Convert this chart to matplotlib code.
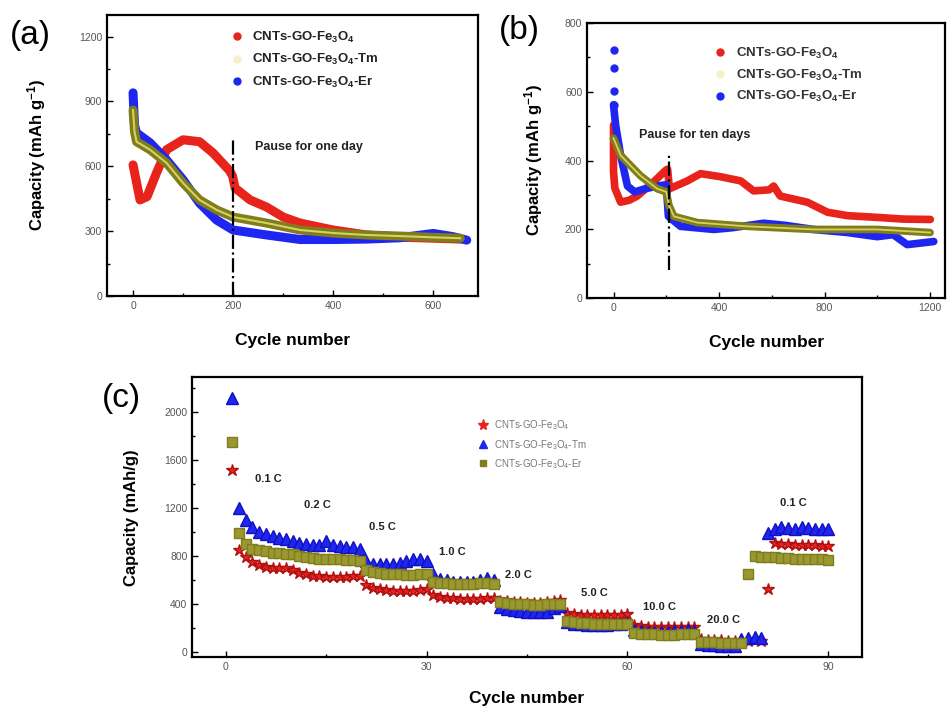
import matplotlib
matplotlib.use("Agg")
import matplotlib.pyplot as plt
from matplotlib.lines import Line2D
from matplotlib.ticker import MultipleLocator

plt.rcParams['font.family'] = ['Liberation Sans', 'DejaVu Sans']
plt.rcParams['mathtext.default'] = 'regular'

# ---- data: panel (a), pause for one day ----
a_red_x = [0, 14, 28, 47, 67, 100, 133, 160, 193, 199, 204, 234, 267, 300, 334, 400, 467, 533, 600, 654]
a_red_y = [607, 445, 460, 570, 677, 723, 714, 662, 580, 555, 500, 445, 412, 366, 338, 306, 283, 273, 268, 264]
a_er_x = [0, 3, 7, 34, 67, 100, 133, 167, 200, 267, 334, 400, 467, 533, 600, 640, 667]
a_er_y = [940, 790, 755, 709, 630, 538, 430, 352, 306, 283, 262, 262, 264, 270, 290, 275, 259]
a_tm_x = [0, 3, 7, 34, 67, 100, 133, 167, 200, 267, 334, 400, 467, 533, 600, 654]
a_tm_y = [860, 760, 714, 677, 616, 523, 445, 399, 366, 338, 306, 292, 283, 278, 272, 268]

# ---- data: panel (b), pause for ten days ----
b_red_x = [0, 0, 5, 27, 60, 90, 152, 197, 205, 212, 280, 330, 406, 482, 531, 590, 607, 632, 735, 811, 887, 1000, 1100, 1201]
b_red_y = [503, 367, 320, 279, 285, 297, 338, 371, 375, 318, 341, 362, 353, 341, 312, 315, 326, 297, 279, 250, 240, 235, 230, 229]
b_er_x = [0, 0, 0, 0, 8, 27, 53, 80, 120, 160, 200, 208, 254, 380, 450, 569, 650, 758, 887, 1000, 1060, 1113, 1160, 1214]
b_er_y = [720, 670, 603, 562, 503, 415, 326, 309, 318, 325, 330, 238, 209, 200, 205, 218, 212, 200, 191, 179, 185, 156, 160, 165]
b_tm_x = [0, 27, 102, 166, 200, 210, 229, 317, 506, 758, 1000, 1200]
b_tm_y = [465, 415, 356, 318, 309, 270, 238, 220, 209, 200, 200, 191]

# ---- data: panel (c), rate performance ----
c_cycles = list(range(1, 91))
c_red = [1520, 850, 790, 750, 730, 715, 705, 700, 700, 690,
         665, 650, 640, 635, 630, 625, 625, 630, 635, 640,
         560, 540, 530, 520, 515, 510, 510, 515, 520, 525,
         480, 465, 455, 450, 448, 445, 445, 448, 450, 455,
         430, 425, 420, 418, 415, 415, 415, 418, 425, 440,
         330, 320, 315, 312, 310, 310, 310, 312, 315, 318,
         225, 218, 215, 212, 210, 210, 210, 212, 212, 215,
         110, 105, 100, 100, 98, 98, 97, 98, 100, 95,
         530, 910, 905, 900, 898, 895, 893, 890, 888, 885]
c_tm = [2120, 1200, 1100, 1040, 1000, 985, 970, 950, 940, 930,
        910, 900, 895, 890, 925, 890, 885, 880, 875, 860,
        760, 740, 735, 735, 740, 745, 760, 775, 780, 760,
        650, 610, 600, 590, 585, 585, 590, 605, 620, 600,
        380, 360, 350, 345, 340, 335, 335, 340, 370, 390,
        250, 240, 235, 232, 230, 230, 232, 235, 240, 245,
        190, 175, 170, 168, 170, 172, 175, 180, 183, 180,
        70, 62, 58, 55, 55, 56, 110, 120, 125, 120,
        990, 1030, 1040, 1035, 1030, 1040, 1035, 1030, 1025, 1030]
c_er = [1750, 990, 900, 860, 850, 840, 830, 825, 820, 815,
        800, 790, 785, 780, 780, 775, 775, 770, 770, 765,
        690, 670, 660, 655, 650, 650, 648, 648, 650, 655,
        590, 580, 575, 570, 570, 570, 572, 575, 575, 570,
        420, 410, 405, 400, 400, 398, 398, 400, 400, 400,
        260, 250, 245, 242, 240, 240, 240, 238, 238, 240,
        160, 155, 150, 150, 148, 148, 148, 150, 150, 150,
        90, 85, 85, 82, 80, 80, 80, 650, 800, 795,
        790, 790, 785, 785, 780, 780, 778, 775, 775, 770]

rate_labels = ['0.1 C', '0.2 C', '0.5 C', '1.0 C', '2.0 C', '5.0 C', '10.0 C', '20.0 C', '0.1 C']
rate_x = [6.3, 13.7, 23.4, 33.9, 43.7, 55, 64.8, 74.3, 84.8]
rate_y = [1441, 1225, 1041, 833, 641, 491, 375, 266, 1241]

labels = ['CNTs-GO-Fe$_3$O$_4$', 'CNTs-GO-Fe$_3$O$_4$-Tm', 'CNTs-GO-Fe$_3$O$_4$-Er']

RED = '#e8231c'
BLUE = '#1f26f0'
OLIVE = '#7f7d1c'
YEL = '#d8d060'
TICKC = '#555555'

fig = plt.figure(figsize=(9.47, 7.12), dpi=100)
ax_a = fig.add_axes([0.113, 0.584, 0.392, 0.395])
ax_b = fig.add_axes([0.620, 0.581, 0.378, 0.387])
ax_c = fig.add_axes([0.203, 0.077, 0.707, 0.393])


def style(ax):
    for s in ax.spines.values():
        s.set_linewidth(1.6)
    ax.tick_params(which='both', direction='in', colors='black', labelcolor=TICKC,
                   labelsize=7.5, width=1.0)
    ax.tick_params(which='major', length=4)
    ax.tick_params(which='minor', length=2.5)


def band(ax, x, y, color, lw=6.5):
    ax.plot(x, y, color=color, lw=lw, solid_capstyle='round', solid_joinstyle='round', zorder=3)


# ---------- (a) ----------
band(ax_a, a_red_x, a_red_y, RED)
band(ax_a, a_er_x, a_er_y, BLUE)
band(ax_a, a_tm_x, a_tm_y, OLIVE)
ax_a.plot(a_tm_x, a_tm_y, color=YEL, lw=1.5, zorder=4)
ax_a.plot([200, 200], [0, 720], color='black', ls='-.', lw=1.6, zorder=5)
ax_a.text(244, 690, 'Pause for one day', fontsize=9, fontweight='bold', color='#222222', va='center')
ax_a.set_xlim(-52, 690)
ax_a.set_ylim(0, 1300)
ax_a.xaxis.set_major_locator(MultipleLocator(200))
ax_a.xaxis.set_minor_locator(MultipleLocator(100))
ax_a.yaxis.set_major_locator(MultipleLocator(300))
ax_a.yaxis.set_minor_locator(MultipleLocator(150))
style(ax_a)
ax_a.set_ylabel('Capacity (mAh g$^{-1}$)', fontsize=12, fontweight='bold', labelpad=22)
ax_a.set_xlabel('Cycle number', fontsize=12.5, fontweight='bold', labelpad=16)

handles_ab = [Line2D([], [], ls='none', marker='o', ms=5, color=RED),
              Line2D([], [], ls='none', marker='o', ms=5, color='#f6f0c8'),
              Line2D([], [], ls='none', marker='o', ms=5, color=BLUE)]
leg = ax_a.legend(handles_ab, labels, loc='upper left', bbox_to_anchor=(0.31, 0.97), frameon=False,
                  prop={'size': 9.5, 'weight': 'bold'}, handletextpad=0.6, labelspacing=0.55,
                  handlelength=1.2, borderpad=0)
for t in leg.get_texts():
    t.set_color('#222222')

# ---------- (b) ----------
band(ax_b, b_red_x, b_red_y, RED, lw=5.5)
band(ax_b, b_er_x[3:], b_er_y[3:], BLUE, lw=5.5)
ax_b.plot(b_er_x[:4], b_er_y[:4], ls='none', marker='o', ms=5, color=BLUE, zorder=3)
band(ax_b, b_tm_x, b_tm_y, OLIVE, lw=5.5)
ax_b.plot(b_tm_x, b_tm_y, color=YEL, lw=1.3, zorder=4)
ax_b.plot([210, 210], [82, 420], color='black', ls='-.', lw=1.6, zorder=5)
ax_b.text(95, 473, 'Pause for ten days', fontsize=9, fontweight='bold', color='#222222', va='center')
ax_b.set_xlim(-100, 1257)
ax_b.set_ylim(0, 800)
ax_b.xaxis.set_major_locator(MultipleLocator(400))
ax_b.xaxis.set_minor_locator(MultipleLocator(200))
ax_b.yaxis.set_major_locator(MultipleLocator(200))
ax_b.yaxis.set_minor_locator(MultipleLocator(100))
style(ax_b)
ax_b.set_ylabel('Capacity (mAh g$^{-1}$)', fontsize=12, fontweight='bold', labelpad=14)
ax_b.set_xlabel('Cycle number', fontsize=12.5, fontweight='bold', labelpad=16)
leg = ax_b.legend(handles_ab, labels, loc='upper left', bbox_to_anchor=(0.33, 0.94), frameon=False,
                  prop={'size': 9.5, 'weight': 'bold'}, handletextpad=0.6, labelspacing=0.5,
                  handlelength=1.2, borderpad=0)
for t in leg.get_texts():
    t.set_color('#333333')

# ---------- (c) ----------
ax_c.plot(c_cycles, c_red, ls='none', color=RED, marker='*', ms=9, mec='#b01010', zorder=3)
ax_c.plot(c_cycles, c_tm, ls='none', color=BLUE, marker='^', ms=8, mec='#1010c0', zorder=3)
ax_c.plot(c_cycles, c_er, ls='none', marker='s', ms=7, mfc='#9a9830', mec=OLIVE, zorder=4)
for lab, x, y in zip(rate_labels, rate_x, rate_y):
    ax_c.text(x, y, lab, fontsize=8, fontweight='bold', color='#222222', ha='center', va='center')
ax_c.set_xlim(-5, 95)
ax_c.set_ylim(-40, 2290)
ax_c.xaxis.set_major_locator(MultipleLocator(30))
ax_c.xaxis.set_minor_locator(MultipleLocator(15))
ax_c.yaxis.set_major_locator(MultipleLocator(400))
ax_c.yaxis.set_minor_locator(MultipleLocator(200))
style(ax_c)
ax_c.set_ylabel('Capacity (mAh/g)', fontsize=12, fontweight='bold', labelpad=18)
ax_c.set_xlabel('Cycle number', fontsize=12.5, fontweight='bold', labelpad=14)
handles_c = [Line2D([], [], ls='none', color=RED, marker='*', ms=8),
             Line2D([], [], ls='none', color=BLUE, marker='^', ms=6),
             Line2D([], [], ls='none', color=OLIVE, marker='s', ms=5)]
leg = ax_c.legend(handles_c, labels, loc='upper left', bbox_to_anchor=(0.42, 0.87), frameon=False,
                  prop={'size': 7}, handletextpad=0.6, labelspacing=0.55, handlelength=1.0, borderpad=0)
for t in leg.get_texts():
    t.set_color('#777777')

# panel letters
fig.text(0.010, 0.950, '(a)', fontsize=24, va='center')
fig.text(0.527, 0.957, '(b)', fontsize=24, va='center')
fig.text(0.108, 0.440, '(c)', fontsize=24, va='center')

fig.savefig('out.png', dpi=100)
